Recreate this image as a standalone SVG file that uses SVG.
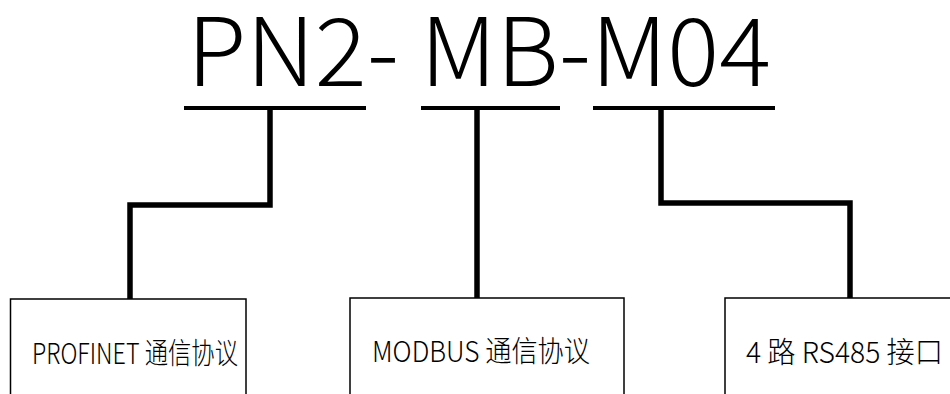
<svg xmlns="http://www.w3.org/2000/svg" width="950" height="394" viewBox="0 0 950 394">
<style>
.title{font-family:"Noto Sans CJK SC","Noto Sans",sans-serif;font-size:94px;font-weight:300;fill:#000}
.lbl{font-family:"Noto Sans CJK SC","Noto Sans",sans-serif;font-size:29px;font-weight:300;fill:#000}
.box{fill:#fff;stroke:#000;stroke-width:1.5}
.ul{stroke:#000;stroke-width:4;fill:none}
.conn{stroke:#000;stroke-width:5.5;fill:none;stroke-linejoin:miter}
</style>
<rect width="950" height="394" fill="#fff"/>
<g id="title">
<text class="title" x="187" y="86" textLength="584" lengthAdjust="spacingAndGlyphs">PN2- MB-M04</text>
<line class="ul" x1="184" y1="108" x2="366" y2="108"/>
<line class="ul" x1="421" y1="108" x2="560" y2="108"/>
<line class="ul" x1="593" y1="108" x2="775" y2="108"/>
</g>
<g id="connectors">
<path class="conn" d="M270,110 V205 H130 V299"/>
<path class="conn" d="M477,110 V298"/>
<path class="conn" d="M661,110 V203 H850 V298"/>
</g>
<g id="node-profinet">
<rect class="box" x="10.5" y="299" width="235.5" height="110"/>
<text class="lbl" x="32" y="364" textLength="206" lengthAdjust="spacingAndGlyphs">PROFINET 通信协议</text>
</g>
<g id="node-modbus">
<rect class="box" x="350" y="298" width="274" height="110"/>
<text class="lbl" x="372" y="362" textLength="218" lengthAdjust="spacingAndGlyphs">MODBUS 通信协议</text>
</g>
<g id="node-rs485">
<rect class="box" x="725" y="298" width="240" height="110"/>
<text class="lbl" x="746" y="363" textLength="197" lengthAdjust="spacingAndGlyphs">4 路 RS485 接口</text>
</g>
</svg>
